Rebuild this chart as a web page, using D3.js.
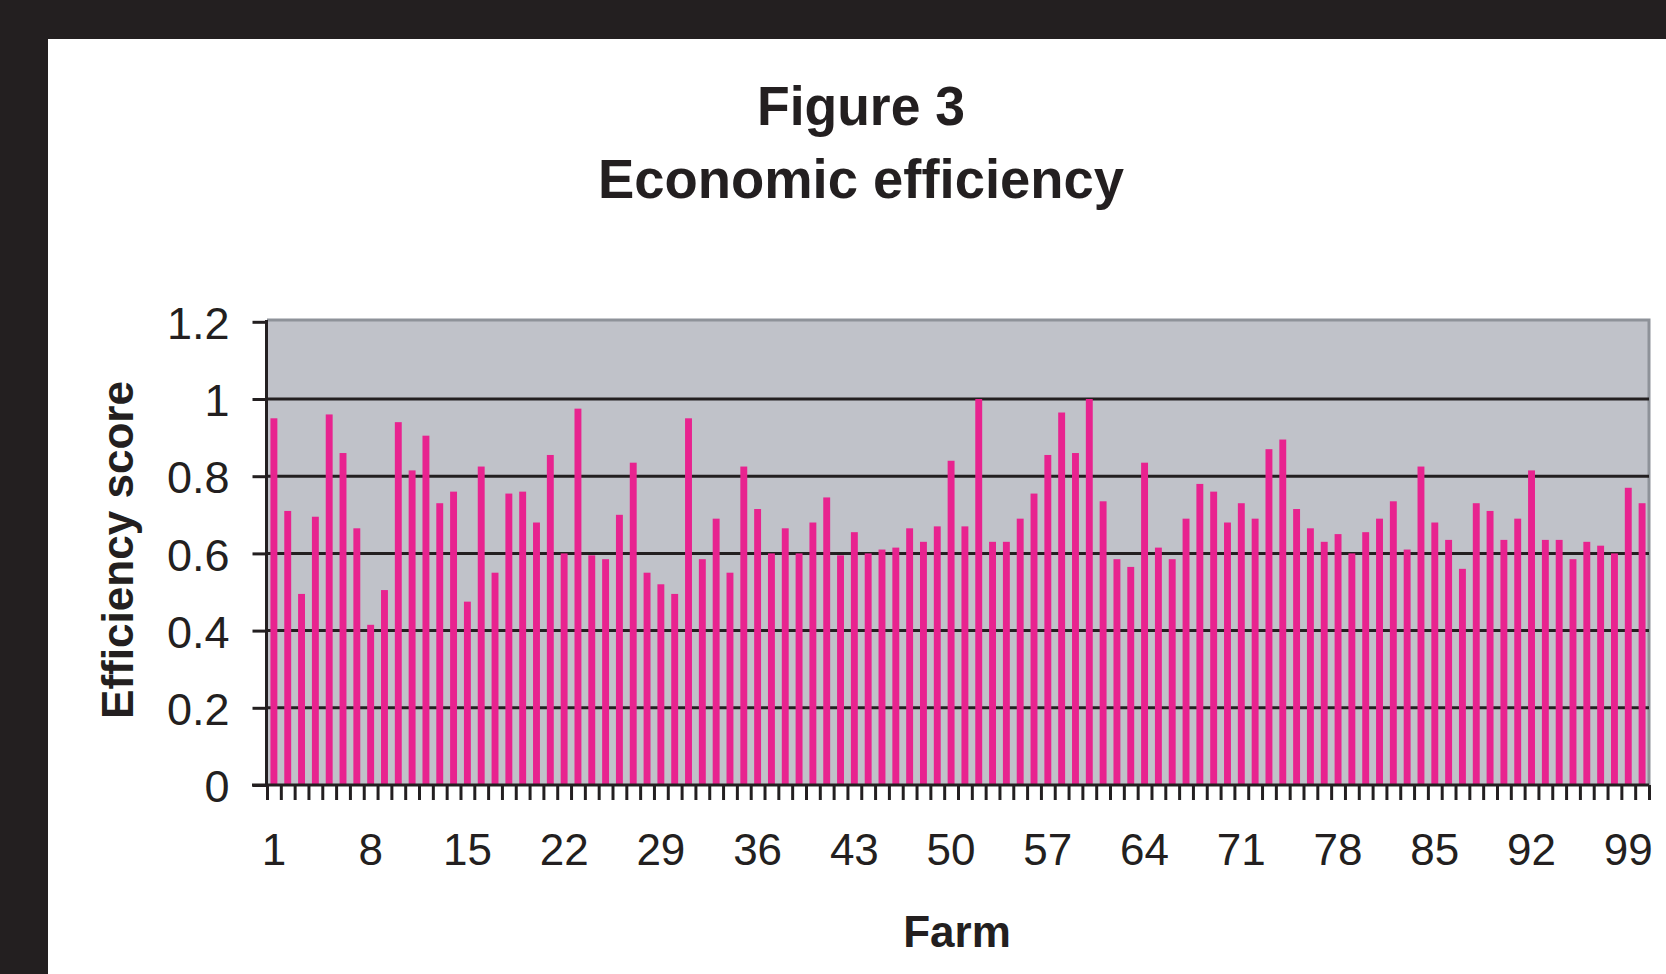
<!DOCTYPE html>
<html>
<head>
<meta charset="utf-8">
<script src="https://cdn.jsdelivr.net/npm/d3@7"></script>
<style>
  html, body { margin: 0; padding: 0; background: #fff; }
  svg { display: block; }
  text { font-family: "Liberation Sans", Arial, sans-serif; fill: #231f20; }
</style>
</head>
<body>
<svg id="chart" width="1666" height="974"></svg>
<script>
// ---- data ----
const farms = d3.range(1, 101);
const efficiency = [
  0.95, 0.71, 0.495, 0.695, 0.96, 0.86, 0.665, 0.415, 0.505, 0.94,
  0.815, 0.905, 0.73, 0.76, 0.475, 0.825, 0.55, 0.755, 0.76, 0.68,
  0.855, 0.60, 0.975, 0.595, 0.585, 0.70, 0.835, 0.55, 0.52, 0.495,
  0.95, 0.585, 0.69, 0.55, 0.825, 0.715, 0.60, 0.665, 0.60, 0.68,
  0.745, 0.595, 0.655, 0.60, 0.61, 0.615, 0.665, 0.63, 0.67, 0.84,
  0.67, 1.0, 0.63, 0.63, 0.69, 0.755, 0.855, 0.965, 0.86, 1.0,
  0.735, 0.585, 0.565, 0.835, 0.615, 0.585, 0.69, 0.78, 0.76, 0.68,
  0.73, 0.69, 0.87, 0.895, 0.715, 0.665, 0.63, 0.65, 0.60, 0.655,
  0.69, 0.735, 0.61, 0.825, 0.68, 0.635, 0.56, 0.73, 0.71, 0.635,
  0.69, 0.815, 0.635, 0.635, 0.585, 0.63, 0.62, 0.60, 0.77, 0.73
];
const xTickLabels = [1, 8, 15, 22, 29, 36, 43, 50, 57, 64, 71, 78, 85, 92, 99];
const yTicks = [0, 0.2, 0.4, 0.6, 0.8, 1, 1.2];
const gridTicks = [0.2, 0.4, 0.6, 0.8, 1];
const titleLines = ["Figure 3", "Economic efficiency"];

// ---- layout ----
const svg = d3.select("#chart");
const W = 1666, H = 974;
const pLeft = 267, pRight = 1649, pTop = 320, pBottom = 785;
const ink = "#231f20";

// frame
svg.append("rect").attr("x", 0).attr("y", 0).attr("width", W).attr("height", H).attr("fill", ink);
svg.append("rect").attr("x", 48).attr("y", 39).attr("width", W - 48).attr("height", H - 39).attr("fill", "#fff");

const x = d3.scaleBand().domain(farms).range([pLeft, pRight]).paddingInner(0.5).paddingOuter(0.25);
const xEdge = d3.scaleLinear().domain([0, farms.length]).range([pLeft, pRight]);
const y = d3.scaleLinear().domain([0, 1.2]).range([pBottom, 321.8]);

// plot area
svg.append("rect").attr("x", pLeft).attr("y", pTop).attr("width", pRight - pLeft).attr("height", pBottom - pTop)
  .attr("fill", "#c0c2c9");
svg.append("path").attr("d", `M${pLeft},${pTop} H${pRight} V${pBottom}`)
  .attr("fill", "none").attr("stroke", "#8e9299").attr("stroke-width", 3);

// gridlines
svg.append("g").selectAll("line").data(gridTicks).join("line")
  .attr("x1", pLeft).attr("x2", pRight)
  .attr("y1", d => y(d)).attr("y2", d => y(d))
  .attr("stroke", ink).attr("stroke-width", 3);

// bars
svg.append("g").selectAll("rect").data(farms).join("rect")
  .attr("x", d => x(d))
  .attr("width", x.bandwidth())
  .attr("y", (d, i) => y(efficiency[i]))
  .attr("height", (d, i) => y(0) - y(efficiency[i]))
  .attr("fill", "#e8238f");

// y axis
const yAxis = svg.append("g").attr("transform", `translate(${pLeft - 0.5},0)`)
  .call(d3.axisLeft(y).tickValues(yTicks).tickSize(14).tickPadding(23)
    .tickFormat(d => d3.format("~g")(d)));
yAxis.select(".domain").attr("stroke", ink).attr("stroke-width", 3).attr("d", `M0,${pTop}V${pBottom + 1.5}`);
yAxis.selectAll(".tick line").attr("stroke", ink).attr("stroke-width", 3);
yAxis.selectAll(".tick text").attr("font-size", 45).attr("dy", "0.37em")
  .attr("font-family", "Liberation Sans, Arial, sans-serif").attr("fill", ink);

// x axis: boundary ticks
const xAxisTicks = svg.append("g").attr("transform", `translate(0,${pBottom})`)
  .call(d3.axisBottom(xEdge).tickValues(d3.range(0, farms.length + 1)).tickSize(15).tickFormat(""));
xAxisTicks.select(".domain").attr("stroke", ink).attr("stroke-width", 3).attr("d", `M${pLeft - 15},0H${pRight}`);
xAxisTicks.selectAll(".tick line").attr("stroke", ink).attr("stroke-width", 3);

// x axis labels
const xAxisLabels = svg.append("g").attr("transform", `translate(0,${pBottom})`)
  .call(d3.axisBottom(x).tickValues(xTickLabels).tickSize(0).tickPadding(49));
xAxisLabels.select(".domain").remove();
xAxisLabels.selectAll(".tick text").attr("font-size", 44)
  .attr("font-family", "Liberation Sans, Arial, sans-serif").attr("fill", ink);

// titles
svg.append("text").attr("x", 861).attr("y", 125).attr("text-anchor", "middle")
  .attr("font-size", 55).attr("font-weight", "bold")
  .attr("textLength", 208).attr("lengthAdjust", "spacingAndGlyphs").text(titleLines[0]);
svg.append("text").attr("x", 861).attr("y", 198).attr("text-anchor", "middle")
  .attr("font-size", 55).attr("font-weight", "bold")
  .attr("textLength", 526).attr("lengthAdjust", "spacingAndGlyphs").text(titleLines[1]);

// axis titles
svg.append("text").attr("transform", "translate(133,550) rotate(-90)").attr("text-anchor", "middle")
  .attr("font-size", 44).attr("font-weight", "bold")
  .attr("textLength", 338).attr("lengthAdjust", "spacingAndGlyphs").text("Efficiency score");
svg.append("text").attr("x", 957).attr("y", 947).attr("text-anchor", "middle")
  .attr("font-size", 44).attr("font-weight", "bold").text("Farm");
</script>
</body>
</html>
